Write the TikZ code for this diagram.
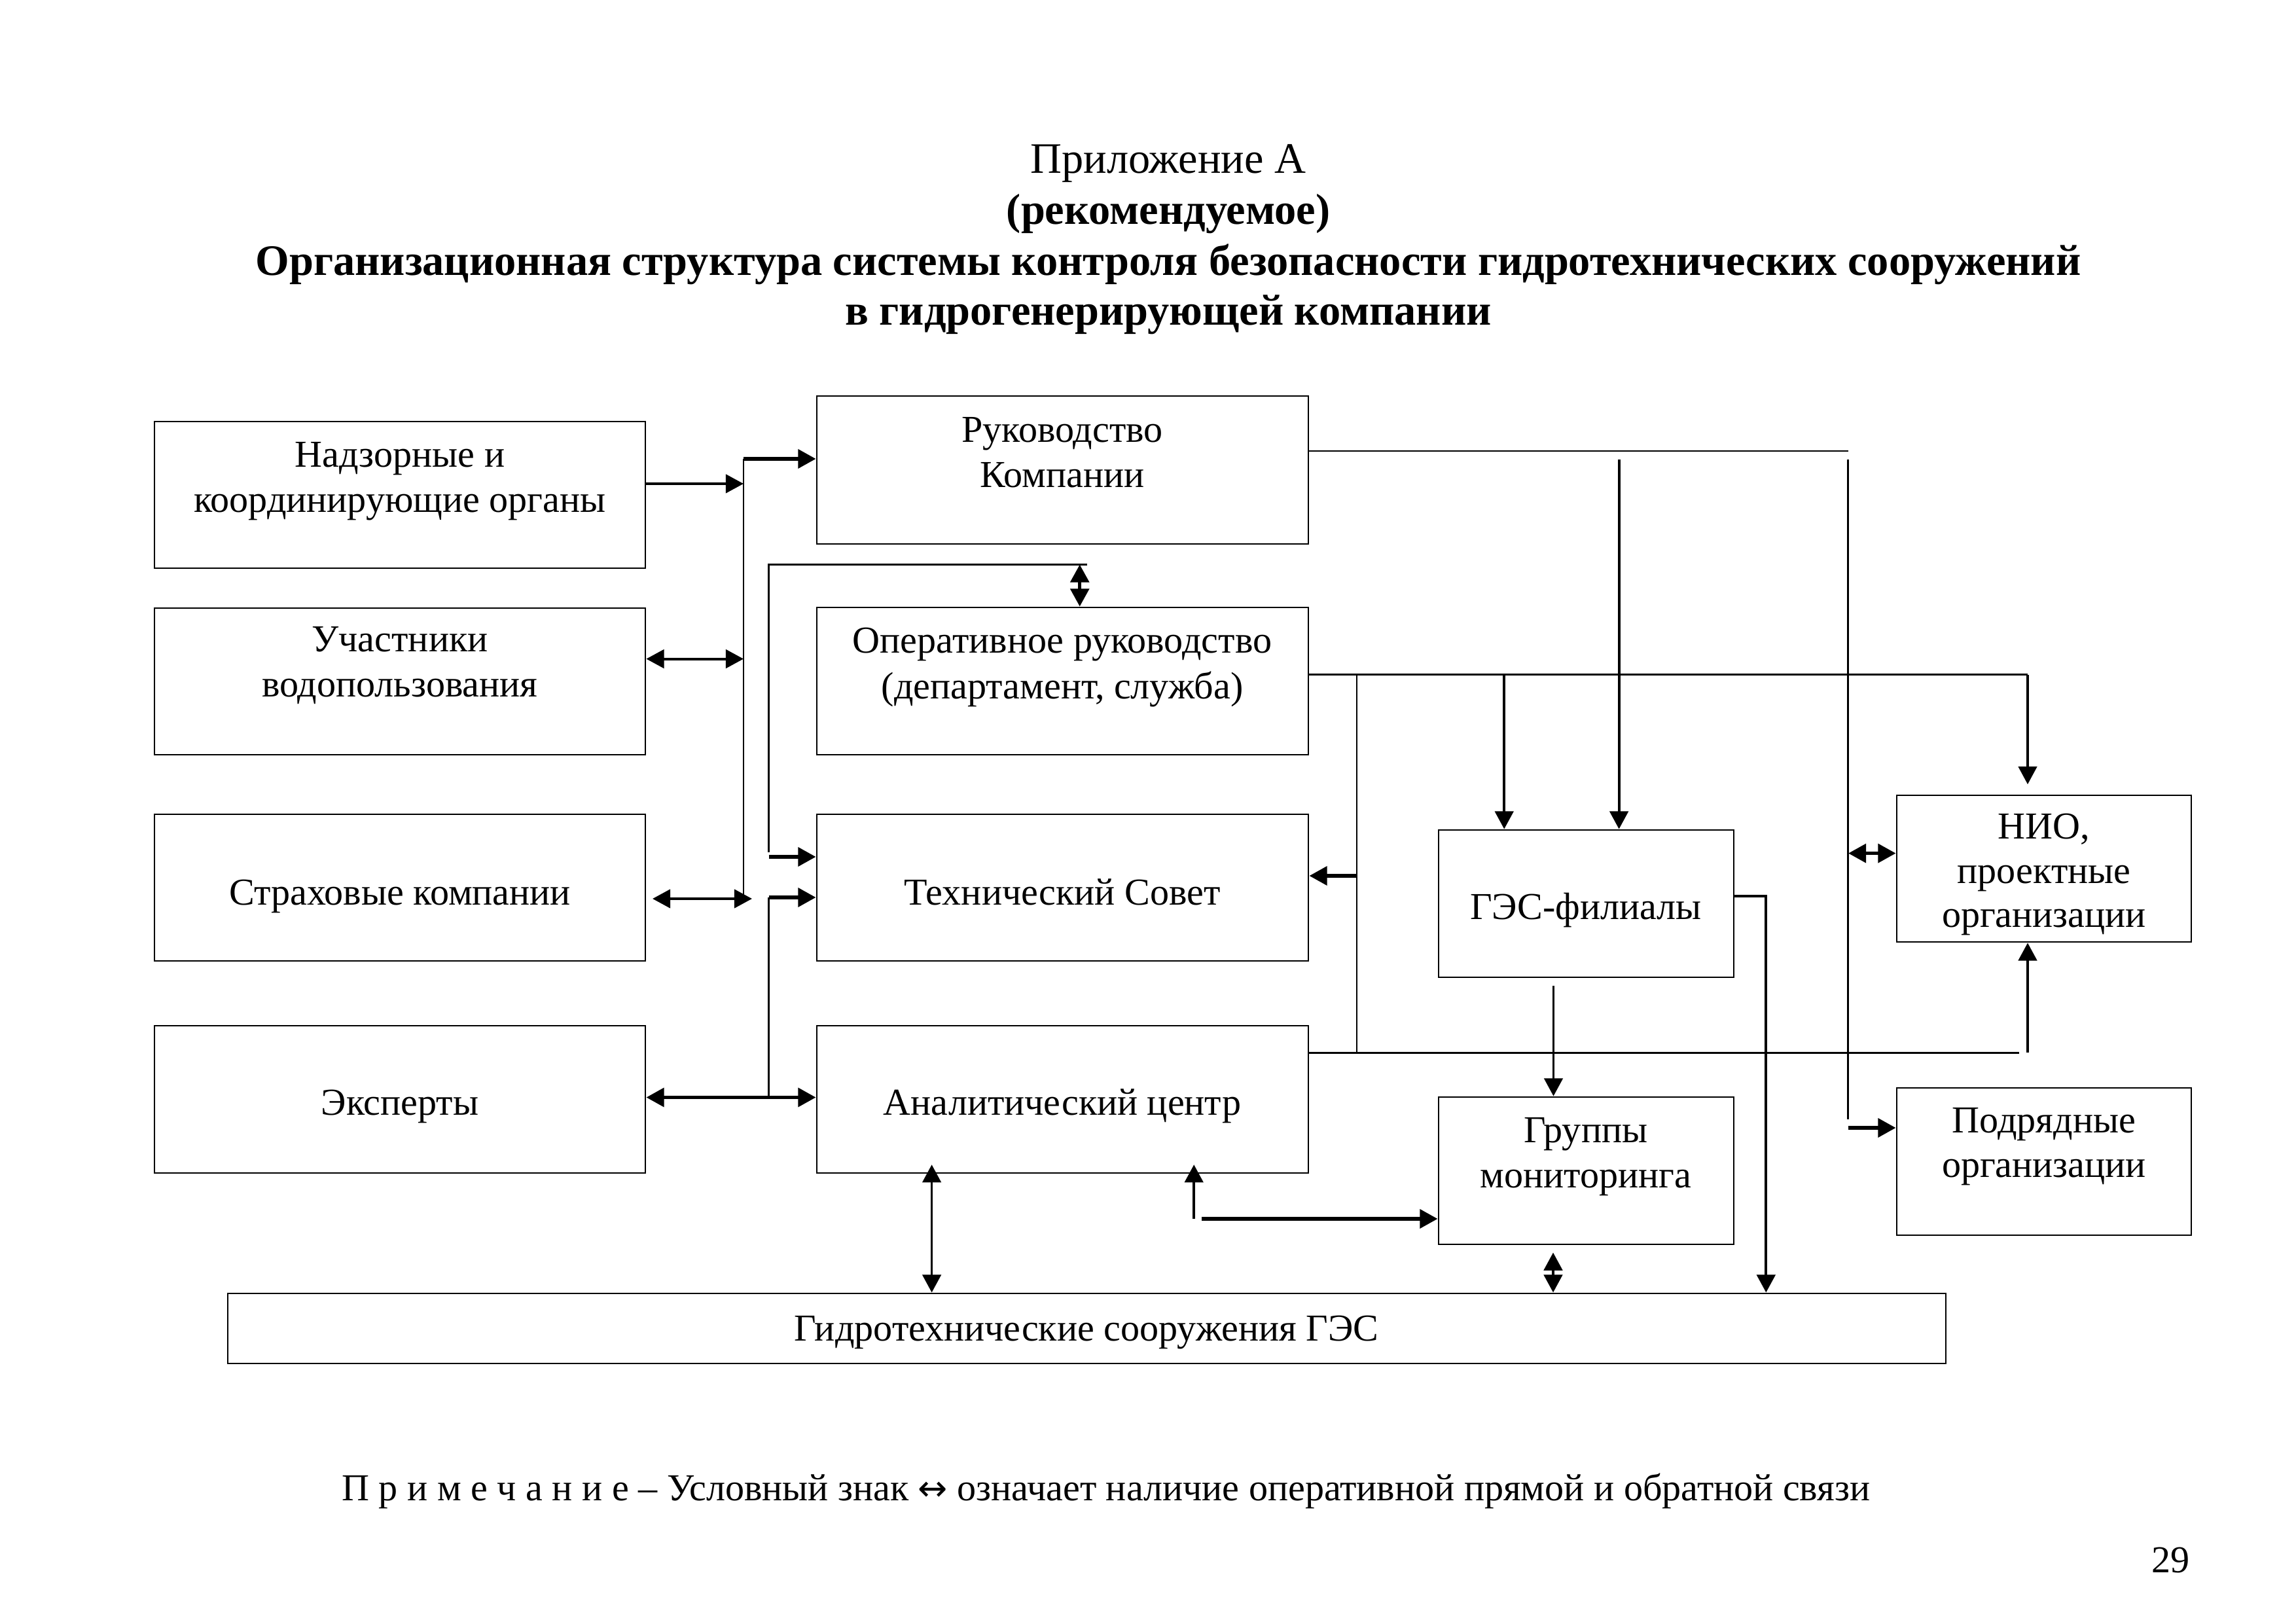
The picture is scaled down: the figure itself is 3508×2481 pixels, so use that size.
\documentclass[tikz,border=0pt]{standalone}
\usepackage{fontspec}
\setmainfont{Liberation Serif}
\newfontfamily\arrowfont{DejaVu Sans}
\usetikzlibrary{arrows.meta,fit}
\begin{document}
\begin{tikzpicture}[x=0.084667mm,y=-0.084667mm,
  box/.style={draw, line width=0.7pt, inner sep=0pt, rectangle},
  lbl/.style={anchor=base, inner sep=0pt, font=\fontsize{14}{16}\selectfont},
  ttl/.style={anchor=base, inner sep=0pt, font=\fontsize{16}{18}\selectfont},
  ttlb/.style={anchor=base, inner sep=0pt, font=\fontsize{16}{18}\selectfont\bfseries},
  hair/.style={line width=0.35pt},
  conn/.style={line width=0.65pt},
  tip/.style={-{Triangle[length=2.3mm,width=2.4mm]}},
  dtip/.style={{Triangle[length=2.3mm,width=2.4mm]}-{Triangle[length=2.3mm,width=2.4mm]}},
  med/.style={line width=0.95pt, tip},
  thk/.style={line width=1.35pt, tip},
]
\useasboundingbox (0,0) rectangle (3508,2481);
\fill[white] (0,0) rectangle (3508,2481);

% ---------- title ----------
\node[ttl]  (t1) at (1785,265) {Приложение А};
\node[ttlb] (t2) at (1785,343) {(рекомендуемое)};
\node[ttlb] (t3) at (1785,421) {Организационная структура системы контроля безопасности гидротехнических сооружений};
\node[ttlb] (t4) at (1785,497) {в гидрогенерирующей компании};

% ---------- boxes ----------
\node[box, fit={(236,644) (986,868)}]    (nadz) {};
\node[box, fit={(236,929) (986,1153)}]   (uch) {};
\node[box, fit={(236,1244) (986,1468)}]  (strah) {};
\node[box, fit={(236,1567) (986,1792)}]  (eksp) {};
\node[box, fit={(1248,605) (1999,831)}]  (ruk) {};
\node[box, fit={(1248,928) (1999,1153)}] (oper) {};
\node[box, fit={(1248,1244) (1999,1468)}] (tech) {};
\node[box, fit={(1248,1567) (1999,1792)}] (anal) {};
\node[box, fit={(2198,1268) (2649,1493)}] (ges) {};
\node[box, fit={(2198,1676) (2649,1901)}] (grup) {};
\node[box, fit={(2898,1215) (3348,1439)}] (nio) {};
\node[box, fit={(2898,1662) (3348,1887)}] (podr) {};
\node[box, fit={(348,1976) (2973,2083)}]  (hydro) {};

% ---------- box texts ----------
\node[lbl] (nadz1) at (611,714) {Надзорные и};
\node[lbl] (nadz2) at (611,783) {координирующие органы};
\node[lbl] (uch1)  at (611,996) {Участники};
\node[lbl] (uch2)  at (611,1065) {водопользования};
\node[lbl] (str1)  at (611,1382) {Страховые компании};
\node[lbl] (eks1)  at (611,1703) {Эксперты};
\node[lbl] (ruk1)  at (1623,676) {Руководство};
\node[lbl] (ruk2)  at (1623,745) {Компании};
\node[lbl] (op1)   at (1623,998) {Оперативное руководство};
\node[lbl] (op2)   at (1623,1068) {(департамент, служба)};
\node[lbl] (te1)   at (1623,1382) {Технический Совет};
\node[lbl] (an1)   at (1623,1703) {Аналитический центр};
\node[lbl] (ge1)   at (2423,1405) {ГЭС-филиалы};
\node[lbl] (gr1)   at (2423,1745) {Группы};
\node[lbl] (gr2)   at (2423,1814) {мониторинга};
\node[lbl] (ni1)   at (3123,1282) {НИО,};
\node[lbl] (ni2)   at (3123,1349) {проектные};
\node[lbl] (ni3)   at (3123,1416) {организации};
\node[lbl] (po1)   at (3123,1730) {Подрядные};
\node[lbl] (po2)   at (3123,1798) {организации};
\node[lbl] (hy1)   at (1660,2048) {Гидротехнические сооружения ГЭС};

% ---------- left side connectors ----------
\coordinate (j1)  at (1136,739);
\coordinate (j1t) at (1136,701);
\coordinate (j1b) at (1136,1373);
\draw[hair] (j1t) -- (j1b);
\draw[med] (nadz.east |- j1) -- (j1);
\draw[thk] (j1t) -- (ruk.west |- j1t);
\coordinate (j2) at (1136,1006.6);
\draw[line width=0.95pt, dtip] (uch.east |- j2) -- (j2);
\coordinate (s1) at (997,1373);
\coordinate (s2) at (1149,1373);
\draw[line width=0.95pt, dtip] (s1) -- (s2);

\coordinate (l1) at (1174.5,862.5);
\coordinate (l2) at (1174.5,1302);
\coordinate (l3) at (1661,862.5);
\draw[conn] (l2) -- (l1) -- (l3);
\coordinate (a1) at (1174.5,1309);
\draw[thk] (a1) -- (tech.west |- a1);
\coordinate (a2) at (1174.5,1371);
\draw[thk] (a2) -- (tech.west |- a2);
\coordinate (e1) at (1174.5,1676.5);
\draw[conn] (a2) -- (e1);
\draw[line width=1.35pt, dtip] (eksp.east |- e1) -- (anal.west |- e1);

\coordinate (d1) at (1649.7,862.5);
\draw[line width=1.2pt, dtip] (d1) -- (oper.north -| d1);

% ---------- right side connectors ----------
\coordinate (r1) at (2823.6,689);
\draw[conn] (ruk.east |- r1) -- (r1);
\coordinate (r2) at (2473.6,701.7);
\draw[line width=0.9pt, tip] (r2) -- (ges.north -| r2);
\coordinate (r3) at (2823.6,701.7);
\coordinate (r4) at (2823.6,1709.8);
\draw[conn] (r3) -- (r4);
\coordinate (r5) at (2823.6,1723);
\draw[thk] (r5) -- (podr.west |- r5);
\coordinate (r6) at (2824,1303.6);
\draw[line width=1.35pt, dtip] (r6) -- (nio.west |- r6);

\coordinate (o1) at (3098,1030.6);
\draw[conn] (oper.east |- o1) -- (o1);
\draw[line width=0.8pt, tip, shorten >=1.3mm] (o1) -- (o1 |- nio.north);
\coordinate (o3) at (2073,1030.6);
\coordinate (o4) at (2073,1608.3);
\draw[conn] (o3) -- (o4);
\coordinate (o5) at (2073,1338);
\draw[thk] (o5) -- (tech.east |- o5);
\coordinate (o6) at (2298.2,1030.6);
\draw[line width=0.9pt, tip] (o6) -- (ges.north -| o6);

\coordinate (n1) at (3085,1608.3);
\draw[conn] (anal.east |- n1) -- (n1);
\coordinate (n2) at (3098,1608);
\draw[line width=0.9pt, tip] (n2) -- (nio.south -| n2);

\coordinate (g1) at (2373.5,1505.7);
\draw[line width=0.9pt, tip] (g1) -- (grup.north -| g1);
\coordinate (g2) at (2698.3,1368.6);
\draw[line width=0.95pt, tip] (ges.east |- g2) -- (g2) -- (hydro.north -| g2);

\coordinate (m1) at (1824.2,1862);
\draw[line width=0.9pt, tip, shorten >=-1.2mm] (m1) -- (anal.south -| m1);
\coordinate (m2) at (1836,1862);
\draw[thk] (m2) -- (grup.west |- m2);

\coordinate (h1) at (2373,1913.6);
\draw[line width=0.9pt, dtip] (h1) -- (hydro.north -| h1);
\coordinate (h2) at (1423.6,2000);
\draw[line width=0.9pt, dtip, shorten <=-1.2mm] (anal.south -| h2) -- (hydro.north -| h2);

% ---------- note & page number ----------
\node[lbl] (note) at (1690,2292) {П р и м е ч а н и е – Условный знак {\arrowfont\fontsize{13}{16}\selectfont ↔} означает наличие оперативной прямой и обратной связи};
\node[lbl, anchor=base east] (pg) at (3346,2402) {29};
\end{tikzpicture}
\end{document}
